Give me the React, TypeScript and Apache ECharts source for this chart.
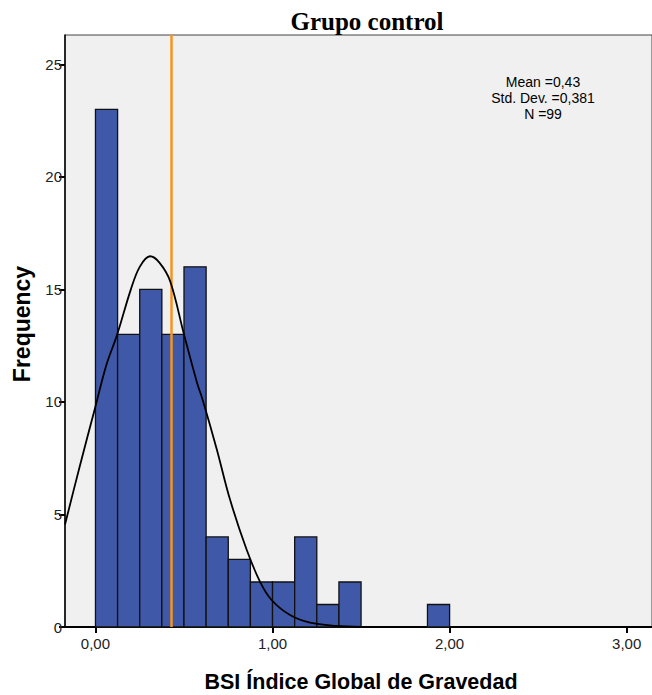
import React, { useEffect, useRef } from "react";
import * as echarts from "echarts";

const binLeft = [0, 0.125, 0.25, 0.375, 0.5, 0.625, 0.75, 0.875, 1.0, 1.125, 1.25, 1.375, 1.875];
const binWidth = 0.125;
const counts = [23, 13, 15, 13, 16, 4, 3, 2, 2, 4, 1, 2, 1];

const curveX = [-0.172, -0.09, 0.0, 0.06, 0.123, 0.2, 0.25, 0.308, 0.36, 0.421, 0.5, 0.572, 0.609, 0.685, 0.76, 0.854, 0.929, 0.995, 1.099, 1.212, 1.36, 1.5];
const curveY = [4.55, 7.1, 9.8, 11.6, 13.0, 15.0, 16.0, 16.47, 16.2, 15.38, 13.0, 10.9, 10.0, 7.9, 5.66, 3.43, 2.02, 1.2, 0.53, 0.19, 0.05, 0.01];

const meanValue = 0.43;
const xTicks = [0, 1, 2, 3];
const yTicks = [0, 5, 10, 15, 20, 25];
const statLines = ["Mean =0,43", "Std. Dev. =0,381", "N =99"];

export default function App() {
  const ref = useRef<HTMLDivElement>(null);
  useEffect(() => {
    if (!ref.current) return;
    const chart = echarts.init(ref.current, null, { renderer: "svg" });
    const barData = binLeft.map((x, i) => [x, x + binWidth, counts[i]]);
    const curveData = curveX.map((x, i) => [x, curveY[i]]);
    chart.setOption({
      animation: false,
      backgroundColor: "#ffffff",
      grid: {
        left: 65,
        top: 35,
        right: 0,
        bottom: 68,
        show: true,
        backgroundColor: "#f0f0f0",
        borderColor: "#444",
        borderWidth: 1,
      },
      xAxis: {
        type: "value",
        min: -0.172,
        max: 3.143,
        interval: 1,
        splitLine: { show: false },
        axisLine: { show: true, onZero: false, lineStyle: { color: "#000", width: 2 } },
        axisTick: {
          show: true,
          length: 6,
          lineStyle: { color: "#000", width: 2 },
          customValues: xTicks,
        },
        axisLabel: {
          customValues: xTicks,
          formatter: (v: number) => v.toFixed(2).replace(".", ","),
          fontFamily: "Liberation Sans, Arial, sans-serif",
          fontSize: 15,
          color: "#222",
          margin: 9,
        },
      },
      yAxis: {
        type: "value",
        min: 0,
        max: 26.3,
        interval: 5,
        splitLine: { show: false },
        axisLine: { show: true, onZero: false, lineStyle: { color: "#000", width: 1.5 } },
        axisTick: {
          show: true,
          length: 6,
          lineStyle: { color: "#000", width: 2 },
          customValues: yTicks,
        },
        axisLabel: {
          customValues: yTicks,
          fontFamily: "Liberation Sans, Arial, sans-serif",
          fontSize: 15,
          color: "#222",
          margin: 3,
        },
      },
      graphic: [
        {
          type: "text",
          x: 367,
          y: 21,
          style: {
            text: "Grupo control",
            textAlign: "center",
            textVerticalAlign: "middle",
            font: "bold 25px 'Liberation Serif', 'Times New Roman', serif",
            fill: "#000",
          },
        },
        {
          type: "text",
          x: 361,
          y: 682,
          style: {
            text: "BSI Índice Global de Gravedad",
            textAlign: "center",
            textVerticalAlign: "middle",
            font: "bold 21.5px 'Liberation Sans', Arial, sans-serif",
            fill: "#000",
          },
        },
        {
          type: "text",
          x: 22,
          y: 324,
          rotation: Math.PI / 2,
          style: {
            text: "Frequency",
            textAlign: "center",
            textVerticalAlign: "middle",
            font: "bold 23px 'Liberation Sans', Arial, sans-serif",
            fill: "#000",
          },
        },
        ...statLines.map((t, i) => ({
          type: "text",
          x: 543,
          y: 82 + i * 16,
          style: {
            text: t,
            textAlign: "center",
            textVerticalAlign: "middle",
            font: "14px 'Liberation Sans', Arial, sans-serif",
            fill: "#000",
          },
        })),
      ],
      series: [
        {
          type: "custom",
          data: barData,
          encode: { x: [0, 1], y: 2 },
          renderItem: (params: any, api: any) => {
            const x0 = api.value(0);
            const x1 = api.value(1);
            const y = api.value(2);
            const p0 = api.coord([x0, y]);
            const p1 = api.coord([x1, 0]);
            return {
              type: "rect",
              shape: { x: p0[0], y: p0[1], width: p1[0] - p0[0], height: p1[1] - p0[1] },
              style: { fill: "#3f58a8", stroke: "#111", lineWidth: 1.3 },
            };
          },
          z: 2,
        },
        {
          type: "line",
          data: curveData,
          smooth: 0.35,
          showSymbol: false,
          lineStyle: { color: "#000", width: 1.8 },
          z: 4,
          markLine: {
            silent: true,
            symbol: ["none", "none"],
            label: { show: false },
            lineStyle: { color: "#f7941d", width: 2.5, type: "solid" },
            data: [{ xAxis: meanValue }],
            z: 3,
          },
        },
      ],
    });
    return () => chart.dispose();
  }, []);
  return (
    <div
      ref={ref}
      style={{ position: "fixed", left: 0, top: 0, width: 652, height: 695 }}
    />
  );
}
